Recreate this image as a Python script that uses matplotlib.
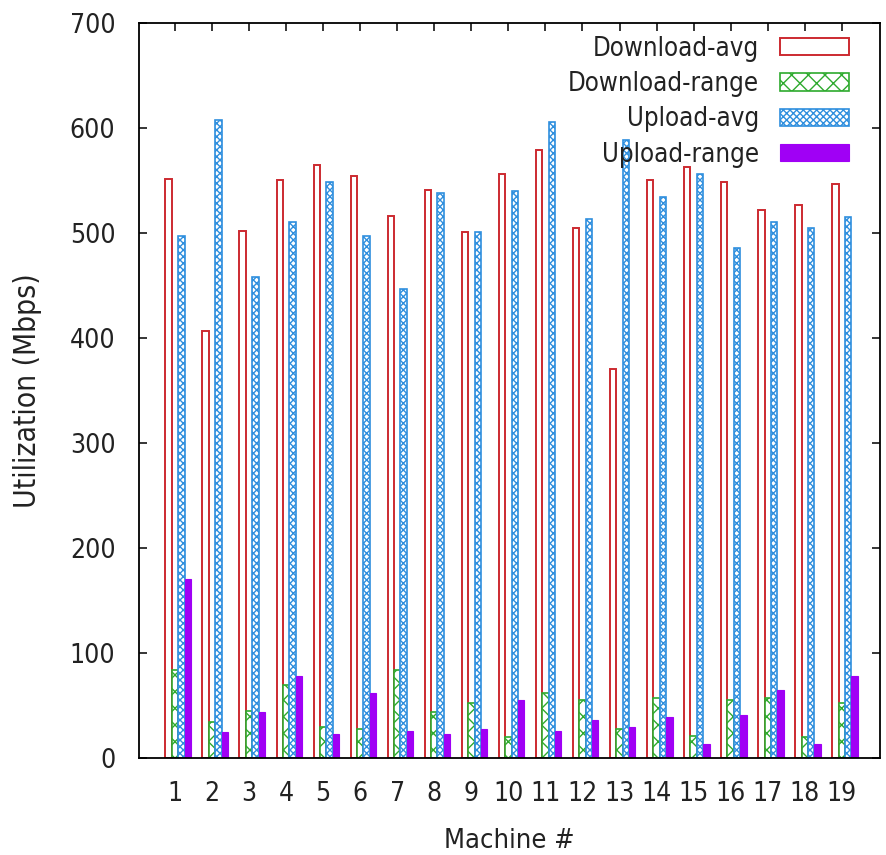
import matplotlib
matplotlib.use("Agg")
import matplotlib.pyplot as plt
from matplotlib import font_manager
import numpy as np

# valeurs (Mbps)
machines = list(range(1, 20))
download_avg = [552, 407, 502, 551, 565, 554, 516, 541, 501, 556, 579, 505, 370, 551, 563, 549, 522, 527, 547]
download_range = [83, 34, 44, 69, 29, 27, 83, 43, 52, 20, 62, 55, 27, 57, 21, 55, 57, 20, 52]
upload_avg = [497, 608, 458, 511, 549, 497, 447, 538, 501, 540, 606, 513, 589, 534, 556, 486, 511, 505, 515]
upload_range = [170, 24, 43, 78, 22, 62, 25, 22, 27, 55, 25, 36, 29, 39, 13, 41, 64, 13, 78]

rouge = '#cc2a30'
vert = '#2eaa2e'
bleu = '#2f8fde'
violet = '#a000f5'
texte = '#222222'

plt.rcParams['font.family'] = ['DejaVu Sans']
plt.rcParams['hatch.linewidth'] = 1.0

# police condensée si disponible (le texte d'origine est étroit et haut)
fp = font_manager.FontProperties(family='DejaVu Sans', stretch='condensed')
condense = 'Condensed' in font_manager.findfont(fp)
if condense:
    plt.rcParams['font.stretch'] = 'condensed'
    f_tick, f_leg, f_xl, f_yl = 19, 18.5, 19.5, 21.5
else:
    f_tick, f_leg, f_xl, f_yl = 16.5, 17, 17, 20

fig = plt.figure(figsize=(8.86, 8.55), dpi=100)
ax = fig.add_axes([0.1569, 0.1140, 0.8363, 0.8587])

x = np.array(machines)
w = 0.172

ax.bar(x - w, download_avg, w, facecolor='white', edgecolor=rouge, linewidth=1.4,
       label='Download-avg')
ax.bar(x, download_range, w, facecolor='white', edgecolor=vert, linewidth=1.2,
       hatch='xx', label='Download-range')
ax.bar(x + w, upload_avg, w, facecolor='white', edgecolor=bleu, linewidth=1.2,
       hatch='xxxxx', label='Upload-avg')
ax.bar(x + 2 * w, upload_range, w, facecolor=violet, edgecolor=violet, linewidth=0.8,
       label='Upload-range')

ax.set_xlim(0.03, 20.03)
ax.set_ylim(0, 700)
ax.set_xticks(machines)
ax.set_yticks(range(0, 701, 100))
ax.tick_params(direction='in', top=True, right=True, length=6, width=1.1,
               labelsize=f_tick, labelcolor=texte)
ax.tick_params(axis='x', bottom=False, pad=17)
ax.tick_params(axis='y', pad=17)
for s in ax.spines.values():
    s.set_linewidth(1.3)

ax.set_xlabel('Machine #', fontsize=f_xl, color=texte, labelpad=15)
ax.set_ylabel('Utilization (Mbps)', fontsize=f_yl, color=texte, labelpad=20)

leg = ax.legend(loc='upper right', bbox_to_anchor=(0.986, 1.011), frameon=False,
                markerfirst=False, fontsize=f_leg, handlelength=2.7, handleheight=0.65,
                handletextpad=0.8, labelspacing=0.36, borderpad=0.3)
for t in leg.get_texts():
    t.set_color(texte)

fig.savefig('out.png', dpi=100)
